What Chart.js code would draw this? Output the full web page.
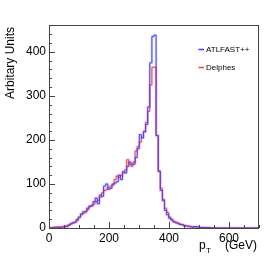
<!DOCTYPE html>
<html>
<head>
<meta charset="utf-8">
<script src="https://cdn.jsdelivr.net/npm/chart.js@4.4.0/dist/chart.umd.min.js"></script>
<style>
  html, body { margin: 0; padding: 0; background: #fff; }
  #wrap { width: 273px; height: 259px; position: relative; }
</style>
</head>
<body>
<div id="wrap"><canvas id="ptChart"></canvas></div>
<script>
// histogram: 100 bins of 7 GeV from 0 to 700
const binWidth = 7;
const nBins = 100;

// ATLFAST++ (blue)
const atlfast = [
  0, 0, 1, 1, 1, 1, 2, 2, 3, 6,
  9, 12, 13, 20, 24, 32, 37, 38, 45, 50,
  50, 60, 68, 55, 75, 72, 95, 100, 88, 90,
  98, 102, 105, 120, 110, 128, 125, 140, 150, 145,
  145, 160, 180, 212, 205, 218, 235, 275, 375, 435,
  438, 210, 128, 85, 62, 40, 30, 22, 18, 14,
  12, 10, 8, 8, 5, 4, 4, 3, 2, 3,
  3, 2, 1, 1, 1, 0, 1, 0, 0, 0,
  0, 0, 0, 0, 0, 0, 0, 0, 0, 0,
  0, 0, 0, 0, 0, 0, 0, 0, 0, 0
];

// Delphes (red)
const delphes = [
  0, 1, 2, 2, 3, 2, 3, 4, 5, 7,
  10, 11, 14, 17, 25, 30, 33, 36, 42, 48,
  52, 55, 60, 63, 70, 80, 85, 88, 92, 95,
  100, 110, 118, 115, 120, 125, 132, 155, 145, 140,
  150, 175, 185, 195, 205, 220, 240, 265, 325, 365,
  365, 210, 130, 90, 65, 45, 35, 25, 20, 15,
  13, 11, 9, 7, 6, 5, 4, 3, 3, 2,
  2, 1, 1, 1, 0, 1, 0, 0, 0, 0,
  0, 0, 0, 0, 0, 0, 0, 0, 0, 0,
  0, 0, 0, 0, 0, 0, 0, 0, 0, 0
];

const xTicks = [0, 200, 400, 600];
const yTicks = [0, 100, 200, 300, 400];
const seriesNames = ['ATLFAST++', 'Delphes'];

const blue = 'rgb(60,60,255)';
const red = 'rgb(255,60,60)';

// points at lower bin edges, plus the closing upper edge
function toSteps(values) {
  const pts = values.map((v, i) => ({ x: i * binWidth, y: v }));
  pts.push({ x: nBins * binWidth, y: values[values.length - 1] });
  return pts;
}

// ROOT-like frame, inner ticks, axis titles and legend
const rootStyle = {
  id: 'rootStyle',
  afterDraw(chart) {
    const { ctx, chartArea: a, scales: { x, y } } = chart;
    ctx.save();
    ctx.strokeStyle = '#444';
    ctx.lineWidth = 1;
    ctx.strokeRect(a.left + 0.5, a.top + 0.5, a.right - a.left - 1, a.bottom - a.top);

    ctx.beginPath();
    for (let v = 0; v <= 700; v += 50) {
      const px = Math.round(x.getPixelForValue(v)) + 0.5;
      const len = v % 200 === 0 ? 6 : 3;
      ctx.moveTo(px, a.bottom);
      ctx.lineTo(px, a.bottom - len);
    }
    for (let v = 0; v <= 460; v += 20) {
      const py = Math.round(y.getPixelForValue(v)) + 0.5;
      const len = v % 100 === 0 ? 6 : 3;
      ctx.moveTo(a.left, py);
      ctx.lineTo(a.left + len, py);
    }
    ctx.stroke();

    // y title
    ctx.fillStyle = '#000';
    ctx.font = '12px "Liberation Sans", Arial, sans-serif';
    ctx.save();
    ctx.translate(14, a.top + 2);
    ctx.rotate(-Math.PI / 2);
    ctx.textAlign = 'right';
    ctx.textBaseline = 'alphabetic';
    ctx.fillText('Arbitary Units', 0, 0);
    ctx.restore();

    // x title p_T (GeV)
    ctx.textAlign = 'left';
    ctx.textBaseline = 'alphabetic';
    ctx.fillText('p', 199, 249);
    ctx.font = '8px "Liberation Sans", Arial, sans-serif';
    ctx.fillText('T', 206, 253);
    ctx.font = '12px "Liberation Sans", Arial, sans-serif';
    ctx.fillText('(GeV)', 225, 249);

    // legend
    ctx.font = '8px "Liberation Sans", Arial, sans-serif';
    ctx.textBaseline = 'middle';
    const items = [[seriesNames[0], blue, 49], [seriesNames[1], red, 67]];
    items.forEach(([label, color, ly]) => {
      ctx.strokeStyle = color;
      ctx.lineWidth = 1.5;
      ctx.beginPath();
      ctx.moveTo(198.5, ly + 0.5);
      ctx.lineTo(204, ly + 0.5);
      ctx.stroke();
      ctx.fillStyle = '#000';
      ctx.fillText(label, 206, ly + 0.5);
    });
    ctx.restore();
  }
};

const ctx = document.getElementById('ptChart').getContext('2d');
new Chart(ctx, {
  type: 'line',
  data: {
    datasets: [
      {
        label: seriesNames[0] + ' band',
        data: toSteps(atlfast),
        stepped: true,
        borderColor: 'rgba(60,60,255,0.2)',
        borderWidth: 2.5,
        pointRadius: 0,
        fill: false
      },
      {
        label: seriesNames[1] + ' band',
        data: toSteps(delphes),
        stepped: true,
        borderColor: 'rgba(255,60,60,0.2)',
        borderWidth: 2.5,
        pointRadius: 0,
        fill: false
      },
      {
        label: seriesNames[0],
        data: toSteps(atlfast),
        stepped: true,
        borderColor: blue,
        borderWidth: 1,
        pointRadius: 0,
        fill: false
      },
      {
        label: seriesNames[1],
        data: toSteps(delphes),
        stepped: true,
        borderColor: red,
        borderWidth: 1,
        pointRadius: 0,
        fill: false
      }
    ]
  },
  options: {
    responsive: true,
    maintainAspectRatio: false,
    animation: false,
    layout: { padding: { top: 25, right: 14, left: 0, bottom: 0 } },
    plugins: {
      legend: { display: false },
      tooltip: { enabled: false }
    },
    scales: {
      x: {
        type: 'linear',
        min: 0,
        max: 700,
        grid: { display: false, drawTicks: false },
        border: { display: false },
        afterFit(scale) { scale.height = 31; },
        afterBuildTicks(scale) { scale.ticks = xTicks.map(v => ({ value: v })); },
        ticks: {
          padding: 3,
          color: '#000',
          maxRotation: 0,
          font: { family: '"Liberation Sans", Arial, sans-serif', size: 12 }
        }
      },
      y: {
        min: 0,
        max: 461,
        grid: { display: false, drawTicks: false },
        border: { display: false },
        afterFit(scale) { scale.width = 49; },
        afterBuildTicks(scale) { scale.ticks = yTicks.map(v => ({ value: v })); },
        ticks: {
          padding: 3,
          color: '#000',
          font: { family: '"Liberation Sans", Arial, sans-serif', size: 12 }
        }
      }
    }
  },
  plugins: [rootStyle]
});
</script>
</body>
</html>
